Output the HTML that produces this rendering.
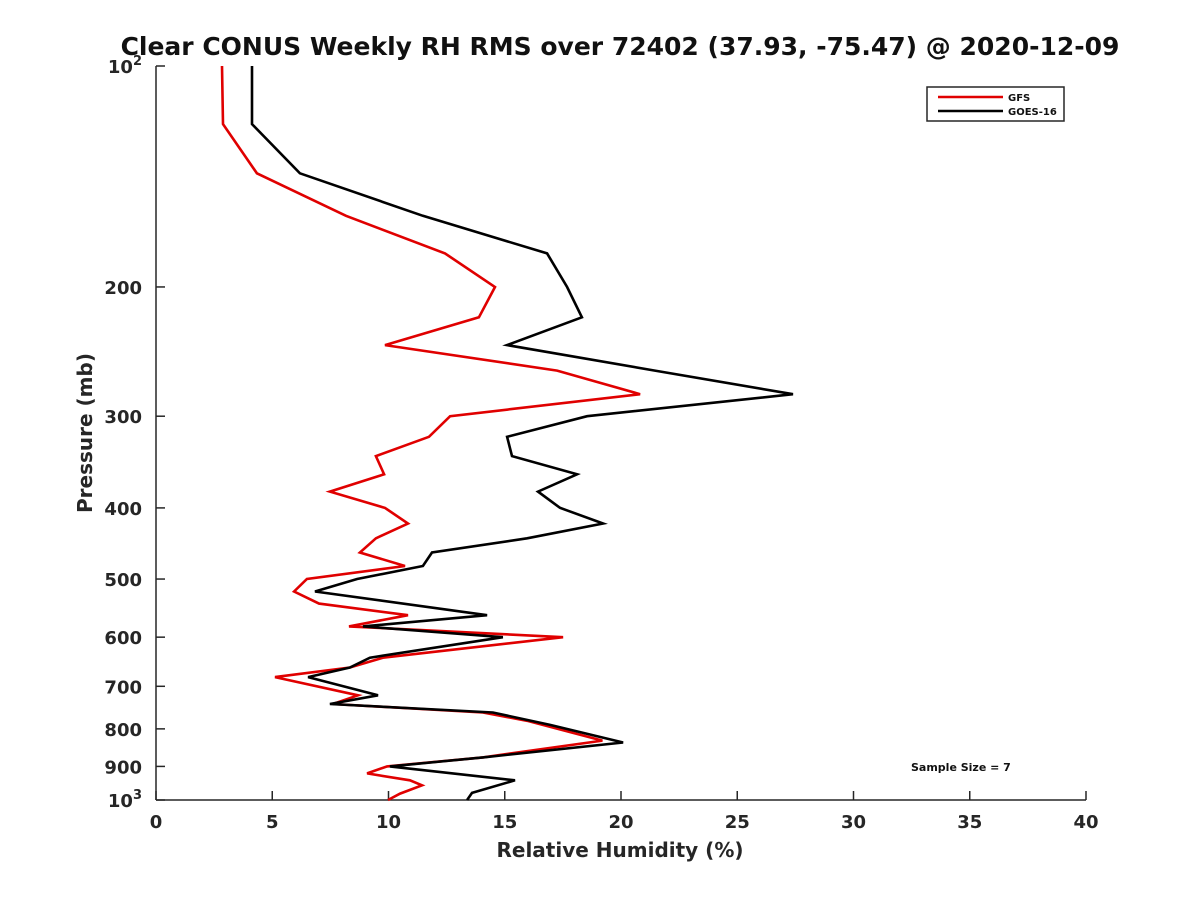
<!DOCTYPE html>
<html><head><meta charset="utf-8"><style>
body{margin:0;background:#fff;}
svg{display:block;font-family:"DejaVu Sans","Liberation Sans",sans-serif;font-weight:bold;}
</style></head><body>
<svg id="chart" width="1200" height="900" viewBox="0 0 1200 900">
<text x="620" y="55" text-anchor="middle" font-size="25" fill="#111">Clear CONUS Weekly RH RMS over 72402 (37.93, -75.47) @ 2020-12-09</text>
<g id="axes"></g>
<g id="series"></g>
<text x="620" y="857" text-anchor="middle" font-size="20" fill="#262626">Relative Humidity (%)</text>
<text transform="translate(92,433) rotate(-90)" text-anchor="middle" font-size="20" fill="#262626">Pressure (mb)</text>
<g>
<rect x="927" y="87" width="137" height="34" fill="#fff" stroke="#262626" stroke-width="1.5"/>
<line x1="938" y1="97" x2="1003" y2="97" stroke="#e00000" stroke-width="2.5"/>
<text x="1008" y="101" font-size="10" fill="#111">GFS</text>
<line x1="938" y1="111" x2="1003" y2="111" stroke="#000" stroke-width="2.5"/>
<text x="1008" y="115" font-size="10" fill="#111">GOES-16</text>
</g>
<text x="911" y="771" font-size="11" fill="#111">Sample Size = 7</text>
</svg>
<script>
const xTicks=[0,5,10,15,20,25,30,35,40];
const yTicks=[100,200,300,400,500,600,700,800,900,1000];
const yTickLabels=["10^2","200","300","400","500","600","700","800","900","10^3"];
const gfsP=[100,120,140,160,180,200,220,240,260,280,300,320,340,360,380,400,420,440,460,480,500,520,540,560,580,600,640,660,680,720,740,760,780,830,875,900,920,940,955,980,1000];
const gfsRH=[2.84,2.88,4.34,8.17,12.43,14.58,13.89,9.85,17.25,20.82,12.65,11.74,9.46,9.81,7.48,9.85,10.84,9.46,8.77,10.71,6.49,5.94,7.01,10.84,8.30,17.51,9.76,8.34,5.12,8.69,7.61,14.06,15.96,19.2,14.06,9.94,9.08,10.92,11.44,10.5,9.98];
const goesP=[100,120,140,160,180,200,220,240,260,280,300,320,340,360,380,400,420,440,460,480,500,520,560,580,600,640,660,680,720,740,760,790,835,875,900,940,978,1000];
const goesRH=[4.13,4.13,6.19,11.48,16.82,17.68,18.32,15.10,21.46,27.40,18.54,15.10,15.31,18.11,16.43,17.38,19.23,15.96,11.87,11.48,8.65,6.84,14.24,8.90,14.92,9.20,8.34,6.54,9.55,7.48,14.49,16.95,20.09,14.06,10.06,15.44,13.59,13.38];

const X0=156,X1=1086,Y0=66,Y1=800;
const xs=v=>X0+(v-0)/(40-0)*(X1-X0);
const ys=p=>Y0+(Math.log10(p)-2)*(Y1-Y0);
const NS="http://www.w3.org/2000/svg";
function mk(tag,attrs,parent){const e=document.createElementNS(NS,tag);for(const k in attrs)e.setAttribute(k,attrs[k]);parent.appendChild(e);return e;}
const axes=document.getElementById('axes');
const ya=mk('line',{x1:X0,y1:Y0,x2:X0,y2:Y1,stroke:'#262626','stroke-width':1.5},axes);


const xa=mk('line',{x1:X0,y1:Y1,x2:X1,y2:Y1,stroke:'#262626','stroke-width':1.5},axes);


xTicks.forEach(t=>{
  const x=xs(t);
  const l=mk('line',{x1:x,y1:Y1,x2:x,y2:Y1-9,stroke:'#262626','stroke-width':1.5},axes);
  
  
  const tx=mk('text',{x:x,y:Y1+28,'text-anchor':'middle','font-size':18,fill:'#262626'},axes);
  tx.textContent=t;
  
  
});
yTicks.forEach((t,i)=>{
  const y=ys(t);
  const l=mk('line',{x1:X0,y1:y,x2:X0+9,y2:y,stroke:'#262626','stroke-width':1.5},axes);
  
  
  const tx=mk('text',{x:X0-14,y:y+7,'text-anchor':'end','font-size':18,fill:'#262626'},axes);
  const lab=yTickLabels[i];
  if(lab.indexOf('^')>=0){
    const parts=lab.split('^');
    const b=mk('tspan',{},tx); b.textContent=parts[0];
    const s=mk('tspan',{dy:-8,'font-size':13},tx); s.textContent=parts[1];
  } else tx.textContent=lab;
  
  
});
const ser=document.getElementById('series');
function drawLine(P,V,color,name){
  const pts=P.map((p,i)=>xs(V[i]).toFixed(1)+','+ys(p).toFixed(1)).join(' ');
  const pl=mk('polyline',{points:pts,fill:'none',stroke:color,'stroke-width':2.6,'stroke-linejoin':'miter'},ser);
  
  
}
drawLine(gfsP,gfsRH,'#e00000','gfs-line');
drawLine(goesP,goesRH,'#000000','goes16-line');
</script>
</body></html>
